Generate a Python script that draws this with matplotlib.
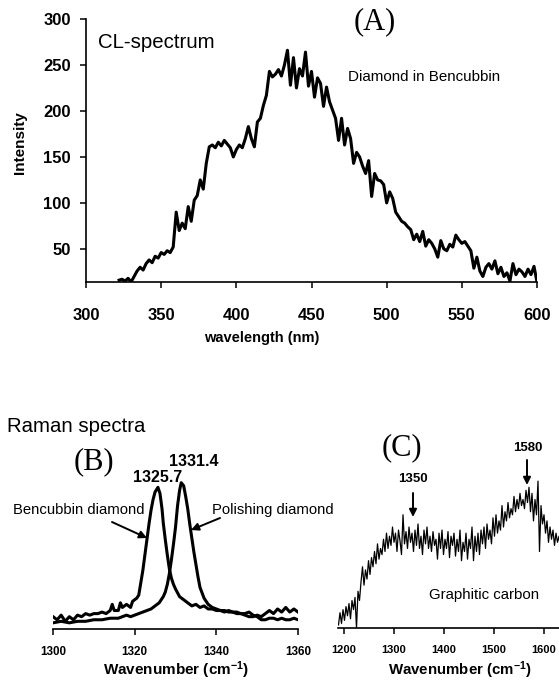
import matplotlib
matplotlib.use("Agg")
import matplotlib.pyplot as plt

plt.rcParams['font.family'] = ['Liberation Sans', 'DejaVu Sans']
plt.rcParams['mathtext.fontset'] = 'custom'
plt.rcParams['mathtext.rm'] = 'Liberation Sans:bold'
plt.rcParams['mathtext.default'] = 'rm'

# ---------------- Data ----------------
# (A) CL spectrum
cl_wavelength = list(range(322, 601, 2))
cl_intensity = [16, 17, 15, 18, 14, 20, 26, 30, 27, 34,
                38, 35, 42, 40, 46, 44, 48, 46, 52, 90,
                70, 78, 72, 96, 80, 103, 108, 125, 115, 143,
                161, 163, 160, 166, 162, 168, 164, 160, 150, 158,
                163, 160, 170, 183, 170, 161, 188, 192, 206, 217,
                243, 237, 240, 245, 238, 250, 266, 228, 258, 225,
                246, 238, 264, 227, 243, 215, 236, 230, 205, 226,
                210, 201, 192, 168, 192, 163, 181, 170, 143, 155,
                150, 140, 132, 146, 107, 132, 125, 124, 120, 100,
                112, 105, 90, 85, 80, 78, 74, 71, 60, 66,
                58, 69, 53, 60, 56, 50, 41, 59, 50, 48,
                55, 52, 65, 60, 56, 58, 53, 48, 29, 41,
                26, 20, 30, 34, 28, 37, 23, 30, 20, 24,
                15, 34, 22, 28, 25, 20, 28, 22, 31, 14]

# (B) Raman spectra of diamonds (arbitrary units)
benc_wn = [1300, 1301, 1302, 1303, 1304, 1305, 1306, 1307, 1308, 1309,
           1310, 1311, 1312, 1313, 1314, 1314.5, 1315, 1316, 1316.5, 1317,
           1318, 1319, 1319.5, 1320, 1320.5, 1321, 1321.5, 1322, 1322.5, 1323,
           1323.5, 1324, 1324.5, 1325, 1325.7, 1326.2, 1326.7, 1327, 1327.5, 1328,
           1328.5, 1329, 1329.5, 1330, 1331, 1332, 1333, 1334, 1335, 1336,
           1337, 1338, 1339, 1340, 1341, 1342, 1343, 1344, 1345, 1346,
           1347, 1348, 1349, 1350, 1351, 1352, 1353, 1354, 1355, 1356,
           1357, 1358, 1359, 1360]
benc_int = [8, 6, 9, 5, 8, 6, 9, 8, 10, 9,
            10, 10, 11, 10, 12, 16, 12, 12, 17, 14,
            16, 14, 18, 19, 20, 22, 30, 38, 48, 58,
            68, 77, 84, 89, 92, 88, 78, 69, 58, 48,
            39, 33, 29, 26, 21, 19, 17, 15, 16, 14,
            15, 13, 13, 12, 12, 11, 12, 11, 11, 10,
            9, 8, 8, 9, 8, 10, 12, 10, 13, 11,
            14, 11, 13, 11]

pol_wn = [1300, 1302, 1304, 1306, 1308, 1310, 1312, 1314, 1316, 1318,
          1319, 1320, 1321, 1322, 1323, 1324, 1325, 1326, 1326.5, 1327,
          1327.5, 1328, 1328.5, 1329, 1329.5, 1330, 1330.5, 1331, 1331.4, 1332,
          1332.5, 1333, 1333.5, 1334, 1334.5, 1335, 1335.5, 1336, 1337, 1338,
          1339, 1340, 1341, 1342, 1343, 1344, 1345, 1346, 1347, 1348,
          1349, 1350, 1351, 1352, 1353, 1354, 1355, 1356, 1357, 1358,
          1359, 1360]
pol_int = [4, 5, 4, 5, 5, 6, 6, 7, 7, 9,
           8, 9, 10, 11, 12, 13, 15, 17, 19, 21,
           24, 29, 36, 45, 55, 66, 80, 90, 95, 93,
           86, 78, 68, 59, 50, 42, 34, 27, 20, 16,
           14, 13, 12, 12, 11, 11, 10, 10, 10, 11,
           9, 8, 6, 6, 7, 7, 6, 7, 6, 6,
           7, 6]

# (C) Raman spectrum of graphitic carbon (arbitrary units)
gc_wn = list(range(1190, 1641, 3))
gc_int = [2, 10, 3, 12, 5, 14, 8, 16, 6, 18,
          12, 20, 0, 24, 18, 30, 40, 28, 38, 32,
          44, 35, 46, 40, 50, 42, 55, 45, 52, 48,
          58, 50, 62, 52, 60, 54, 66, 56, 62, 50,
          64, 57, 48, 74, 55, 63, 52, 66, 56, 62,
          50, 64, 54, 68, 52, 60, 48, 64, 55, 66,
          52, 60, 50, 63, 54, 58, 45, 62, 52, 64,
          48, 58, 52, 63, 46, 60, 54, 62, 47, 58,
          50, 64, 44, 56, 50, 62, 45, 58, 52, 66,
          44, 60, 50, 62, 48, 64, 55, 66, 52, 68,
          58, 64, 55, 72, 60, 74, 62, 70, 64, 80,
          66, 76, 70, 82, 72, 78, 74, 86, 76, 84,
          78, 88, 80, 84, 78, 90, 82, 92, 76, 88,
          70, 84, 74, 96, 50, 80, 68, 74, 62, 70,
          56, 66, 58, 64, 54, 62, 56, 60, 52, 58,
          54]

W, H = 559, 681


def fx(x):
    return x / W


def fy(y):
    return 1 - y / H


fig = plt.figure(figsize=(W / 100, H / 100), dpi=100)

# ---------------- Panel A ----------------
axA = fig.add_axes([fx(86), fy(282), 451 / W, 263 / H])
axA.plot(cl_wavelength, cl_intensity, color='black', lw=2.2, solid_joinstyle='round')
axA.set_xlim(300, 600)
axA.set_ylim(14, 300)
axA.set_xticks([300, 350, 400, 450, 500, 550, 600])
axA.set_yticks([50, 100, 150, 200, 250, 300])
for s in ['top', 'right']:
    axA.spines[s].set_visible(False)
for s in ['left', 'bottom']:
    axA.spines[s].set_linewidth(1.2)
axA.tick_params(axis='x', direction='out', length=4, width=1.1, pad=15, labelsize=12)
axA.tick_params(axis='y', direction='out', length=4, width=1.1, pad=7, labelsize=12)
for lab in axA.get_xticklabels() + axA.get_yticklabels():
    lab.set_fontweight('bold')
axA.set_ylabel('Intensity', fontsize=11, fontweight='bold')
axA.yaxis.set_label_coords((20 - 86) / 451, (282 - 143) / 263)
axA.yaxis.label.set_va('center')

fig.text(fx(262), fy(338), 'wavelength (nm)', fontsize=10.5, fontweight='bold',
         ha='center', va='center')
fig.text(fx(98), fy(43), 'CL-spectrum', fontsize=14.7, ha='left', va='center')
fig.text(fx(348), fy(77), 'Diamond in Bencubbin', fontsize=10.9, ha='left', va='center')
fig.text(fx(375), fy(22), '(A)', fontsize=22, family='Liberation Serif',
         ha='center', va='center')

# ---------------- Panel B ----------------
axB = fig.add_axes([fx(53), fy(629), 245 / W, 154 / H])
axB.plot(benc_wn, benc_int, color='black', lw=2.2, solid_joinstyle='round')
axB.plot(pol_wn, pol_int, color='black', lw=2.2, solid_joinstyle='round')
axB.set_xlim(1300, 1360)
axB.set_ylim(0, 100)
axB.set_xticks([1300, 1320, 1340, 1360])
axB.set_yticks([])
for s in ['top', 'right', 'left']:
    axB.spines[s].set_visible(False)
axB.spines['bottom'].set_linewidth(1.2)
axB.tick_params(axis='x', direction='out', length=4, width=1.1, pad=8, labelsize=8.4)
for lab in axB.get_xticklabels():
    lab.set_fontweight('bold')
axB.set_xlabel('Wavenumber (cm$^{-1}$)', fontsize=11, fontweight='bold')
axB.xaxis.set_label_coords((176 - 53) / 245, (629 - 670) / 154)
axB.xaxis.label.set_va('center')

# ---------------- Panel C ----------------
axC = fig.add_axes([fx(338), fy(628), 244 / W, 153 / H])
axC.plot(gc_wn, gc_int, color='black', lw=0.9)
axC.set_xlim(1189, 1677)
axC.set_ylim(0, 100)
axC.set_xticks([1200, 1300, 1400, 1500, 1600])
axC.set_yticks([])
for s in ['top', 'right', 'left']:
    axC.spines[s].set_visible(False)
axC.spines['bottom'].set_linewidth(1.2)
axC.tick_params(axis='x', direction='out', length=4, width=1.1, pad=8, labelsize=8)
for lab in axC.get_xticklabels():
    lab.set_fontweight('bold')
axC.set_xlabel('Wavenumber (cm$^{-1}$)', fontsize=10.8, fontweight='bold')
axC.xaxis.set_label_coords((460 - 338) / 244, (628 - 670) / 153)
axC.xaxis.label.set_va('center')

# ---------------- Lower texts ----------------
fig.text(fx(7), fy(427), 'Raman spectra', fontsize=14.7, ha='left', va='center')
fig.text(fx(94), fy(462), '(B)', fontsize=22, family='Liberation Serif',
         ha='center', va='center')
fig.text(fx(402), fy(448), '(C)', fontsize=22, family='Liberation Serif',
         ha='center', va='center')
fig.text(fx(158), fy(477), '1325.7', fontsize=11.5, fontweight='bold', ha='center', va='center')
fig.text(fx(194), fy(462), '1331.4', fontsize=11.5, fontweight='bold', ha='center', va='center')
fig.text(fx(79), fy(510), 'Bencubbin diamond', fontsize=10.7, ha='center', va='center')
fig.text(fx(273), fy(510), 'Polishing diamond', fontsize=10.7, ha='center', va='center')
fig.text(fx(413), fy(479), '1350', fontsize=9.5, fontweight='bold', ha='center', va='center')
fig.text(fx(528), fy(448), '1580', fontsize=9.5, fontweight='bold', ha='center', va='center')
fig.text(fx(484), fy(595), 'Graphitic carbon', fontsize=10.8, ha='center', va='center')

arrows = [((112, 522), (147, 538)),
          ((220, 518), (191, 530)),
          ((413, 493), (413, 517)),
          ((527, 460), (527, 485))]
for (tx, ty), (hx, hy) in arrows:
    fig.add_artist(matplotlib.patches.FancyArrowPatch(
        (fx(tx), fy(ty)), (fx(hx), fy(hy)), transform=fig.transFigure,
        arrowstyle='-|>', mutation_scale=11, lw=1.4, color='black',
        shrinkA=0, shrinkB=0))

fig.savefig('out.png', dpi=100)
